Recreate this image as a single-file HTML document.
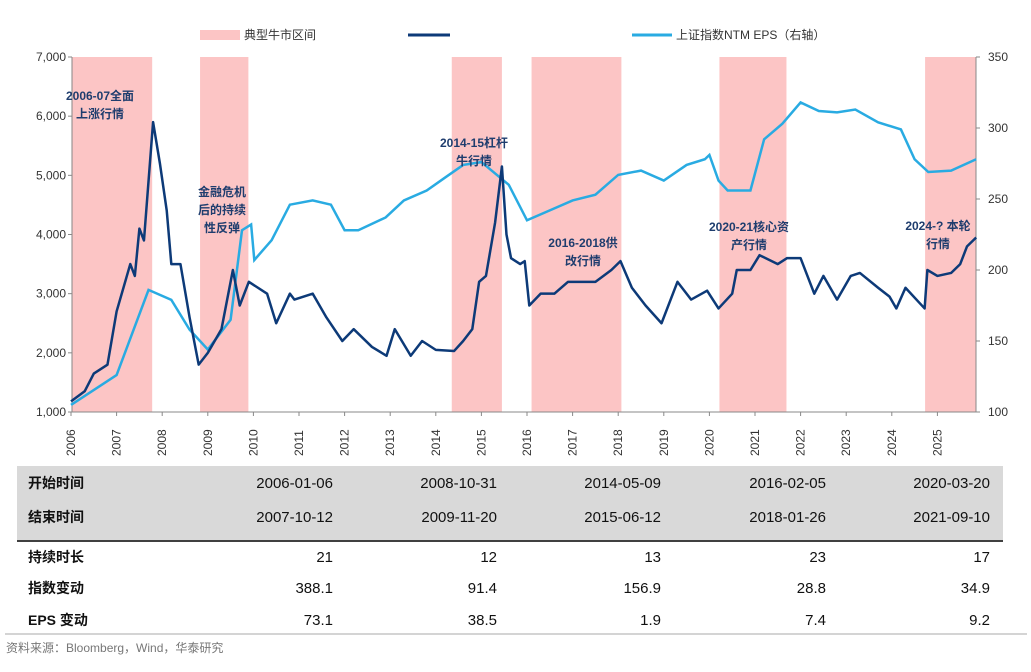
<!DOCTYPE html>
<html><head><meta charset="utf-8"><style>
body{margin:0;background:#fff;}
svg text{font-family:"Liberation Sans","Noto Sans CJK SC",sans-serif;}
</style></head><body>
<svg id="c" width="1031" height="667" xmlns="http://www.w3.org/2000/svg"></svg>
<script>
const bullStarts=[2006.01,2008.83,2014.35,2016.10,2020.22,2024.73];
const bullEnds=[2007.78,2009.89,2015.45,2018.07,2021.69,2025.85];
const idxT=[2006,2006.3,2006.5,2006.8,2007,2007.3,2007.4,2007.5,2007.6,2007.8,2007.95,2008.1,2008.2,2008.4,2008.6,2008.8,2009,2009.3,2009.55,2009.7,2009.9,2010.3,2010.5,2010.8,2010.9,2011.3,2011.6,2011.95,2012.2,2012.6,2012.92,2013.1,2013.45,2013.7,2014,2014.4,2014.6,2014.8,2014.95,2015.1,2015.3,2015.45,2015.55,2015.65,2015.85,2015.95,2016.05,2016.3,2016.6,2016.9,2017.3,2017.5,2017.85,2018.05,2018.3,2018.6,2018.95,2019.3,2019.6,2019.95,2020.2,2020.5,2020.6,2020.9,2021.1,2021.5,2021.7,2022,2022.3,2022.5,2022.8,2023.1,2023.3,2023.7,2023.95,2024.1,2024.3,2024.6,2024.72,2024.78,2025,2025.3,2025.5,2025.65,2025.85];
const idxV=[1180,1350,1650,1800,2700,3500,3300,4100,3900,5900,5200,4400,3500,3500,2600,1800,2000,2400,3400,2800,3200,3000,2500,3000,2900,3000,2600,2200,2400,2100,1950,2400,1950,2200,2050,2030,2200,2400,3200,3300,4200,5150,4000,3600,3500,3550,2800,3000,3000,3200,3200,3200,3400,3550,3100,2800,2500,3200,2900,3050,2750,3000,3400,3400,3650,3500,3600,3600,3000,3300,2900,3300,3350,3100,2950,2750,3100,2850,2750,3400,3300,3350,3500,3800,3950];
const epsT=[2006,2007,2007.7,2008.2,2008.6,2009,2009.5,2009.75,2009.95,2010.02,2010.4,2010.8,2011.3,2011.7,2012,2012.3,2012.9,2013.3,2013.8,2014.2,2014.6,2015,2015.6,2016,2016.5,2017,2017.5,2018,2018.5,2019,2019.5,2019.9,2020,2020.2,2020.4,2020.9,2021.2,2021.6,2022,2022.4,2022.8,2023.2,2023.7,2024.2,2024.5,2024.8,2025.3,2025.85];
const epsV=[105,126,186,179,158,144,165,228,232,207,221,246,249,246,228,228,237,249,256,265,274,276,260,235,242,249,253,267,270,263,274,278,281,263,256,256,292,303,318,312,311,313,304,299,278,269,270,278];
const leftTicks=[1000,2000,3000,4000,5000,6000,7000];
const rightTicks=[100,150,200,250,300,350];
const years=[2006,2007,2008,2009,2010,2011,2012,2013,2014,2015,2016,2017,2018,2019,2020,2021,2022,2023,2024,2025];
const rowLabels=["开始时间","结束时间","持续时长","指数变动","EPS 变动"];
const colStart=["2006-01-06","2008-10-31","2014-05-09","2016-02-05","2020-03-20"];
const colEnd=["2007-10-12","2009-11-20","2015-06-12","2018-01-26","2021-09-10"];
const colDur=["21","12","13","23","17"];
const colIdx=["388.1","91.4","156.9","28.8","34.9"];
const colEps=["73.1","38.5","1.9","7.4","9.2"];

const X0=72,X1=976,Y0=57,Y1=412;
const x=t=>71+(t-2006)*45.6;
const yl=v=>Y1-(v-1000)/6000*(Y1-Y0);
const yr=v=>Y1-(v-100)/250*(Y1-Y0);
const svg=document.getElementById('c');
const NS="http://www.w3.org/2000/svg";
function mk(tag,a,parent){const e=document.createElementNS(NS,tag);for(const k in a)e.setAttribute(k,a[k]);(parent||svg).appendChild(e);return e;}
function txt(s,a){const e=mk('text',a);e.textContent=s;return e;}

for(let i=0;i<bullStarts.length;i++){
 const r=mk('rect',{x:x(bullStarts[i]),y:Y0,width:Math.min(x(bullEnds[i]),X1)-x(bullStarts[i]),height:Y1-Y0,fill:'#fcc5c5'});
 
 
}
mk('line',{x1:X0,y1:Y0,x2:X0,y2:Y1,stroke:'#888'});
mk('line',{x1:X1,y1:Y0,x2:X1,y2:Y1,stroke:'#888'});
mk('line',{x1:X0,y1:Y1,x2:X1,y2:Y1,stroke:'#888'});
leftTicks.forEach(v=>{mk('line',{x1:X0-4,y1:yl(v),x2:X0,y2:yl(v),stroke:'#888'});
 const t=txt(v.toLocaleString('en-US'),{x:X0-6,y:yl(v)+4,'text-anchor':'end','font-size':12,fill:'#333'});
 });
rightTicks.forEach(v=>{mk('line',{x1:X1,y1:yr(v),x2:X1+4,y2:yr(v),stroke:'#888'});
 const t=txt(v,{x:X1+12,y:yr(v)+4,'font-size':12,fill:'#333'});
 });
years.forEach(yv=>{const px=x(yv);mk('line',{x1:px,y1:Y1,x2:px,y2:Y1+4,stroke:'#888'});
 const t=txt(yv,{x:0,y:0,transform:`translate(${px+4},${Y1+44}) rotate(-90)`,'font-size':12,fill:'#333'});
 });
const ep=mk('polyline',{points:epsT.map((t,i)=>x(t)+','+yr(epsV[i])).join(' '),fill:'none',stroke:'#29abe2','stroke-width':2.5});

const ix=mk('polyline',{points:idxT.map((t,i)=>x(t)+','+yl(idxV[i])).join(' '),fill:'none',stroke:'#0d3a78','stroke-width':2.5,'stroke-linejoin':'round'});

[[100,100,"2006-07全面"],[100,118,"上涨行情"],[222,196,"金融危机"],[222,214,"后的持续"],[222,232,"性反弹"],[474,147,"2014-15杠杆"],[474,165,"牛行情"],[583,247,"2016-2018供"],[583,265,"改行情"],[749,231,"2020-21核心资"],[749,249,"产行情"],[938,230,"2024-? 本轮"],[938,248,"行情"]].forEach(a=>{
 const t=txt(a[2],{x:a[0],y:a[1],'text-anchor':'middle','font-size':12,fill:'#1f3d6e','font-weight':'bold'});
 });
let l=mk('rect',{x:200,y:30,width:40,height:10,fill:'#fcc5c5'});
l=txt("典型牛市区间",{x:244,y:39,'font-size':12,fill:'#333'});
l=mk('line',{x1:408,y1:35,x2:450,y2:35,stroke:'#0d3a78','stroke-width':3});
l=mk('line',{x1:632,y1:35,x2:672,y2:35,stroke:'#29abe2','stroke-width':3});
l=txt("上证指数NTM EPS（右轴）",{x:676,y:39,'font-size':12,fill:'#333'});
mk('rect',{x:17,y:466,width:986,height:74,fill:'#d9d9d9'});
mk('line',{x1:17,y1:541,x2:1003,y2:541,stroke:'#000','stroke-width':1.5});
mk('line',{x1:5,y1:634,x2:1027,y2:634,stroke:'#aaa'});
const rowsY=[488,522,562,593,625];
const cols=[colStart,colEnd,colDur,colIdx,colEps];
const colX=[333,497,661,826,990];
rowsY.forEach((ry,r)=>{
 const t=txt(rowLabels[r],{x:28,y:ry,'font-size':14,'font-weight':'bold',fill:'#111'});
 
 cols[r].forEach((v,c)=>{const e=txt(v,{x:colX[c],y:ry,'text-anchor':'end','font-size':15,fill:'#111'});
  });
});
l=txt("资料来源：Bloomberg，Wind，华泰研究",{x:6,y:652,'font-size':12,fill:'#777'});
</script>
</body></html>
